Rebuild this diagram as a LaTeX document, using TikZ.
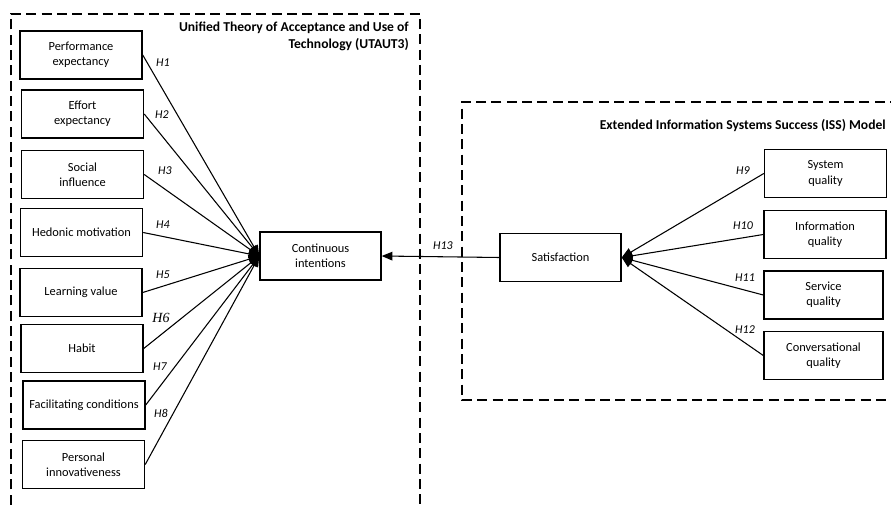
\documentclass[tikz,border=0pt]{standalone}
\usepackage{fontspec}
\setmainfont{Carlito}
\newfontfamily\hsix{Liberation Serif}
\usetikzlibrary{arrows.meta}

\tikzset{
  construct/.style={draw, line width=1.1pt, minimum width=91.5pt, minimum height=36pt,
    align=center, inner sep=1pt, font=\fontsize{9.3}{11.3}\selectfont},
  hyp/.style={font=\fontsize{9}{11}\selectfont\itshape, inner sep=0pt},
  path/.style={line width=0.8pt, -{Triangle[length=8pt, width=6.5pt]}},
  frame/.style={line width=1pt, dash pattern=on 7.5pt off 4pt},
  modeltitle/.style={font=\fontsize{10.2}{12.4}\selectfont\bfseries, align=right, inner sep=0pt}
}

\begin{document}
\begin{tikzpicture}[x=0.75pt, y=-0.75pt]

  \useasboundingbox (0,0) rectangle (891,506);
  \clip (0,0) rectangle (891,506);

  % --- UTAUT3 frame (sinistra) ---
  \draw[frame] (11,520) -- (11,14) -- (420,14) -- (420,520);
  \node[modeltitle, anchor=north east] (utaut) at (409,22)
    {Unified Theory of Acceptance and Use of\\Technology (UTAUT3)};

  % --- ISS frame (destra) ---
  \draw[frame] (900,102) -- (462,102) -- (462,400) -- (900,400);
  \node[modeltitle, anchor=east] (iss) at (886,126)
    {Extended Information Systems Success (ISS) Model};

  % --- costrutti UTAUT3 ---
  \node[construct] (pe) at (81,55) {Performance\\expectancy};
  \node[construct] (ee) at (82.5,114) {Effort\\expectancy};
  \node[construct] (si) at (82.5,174.5) {Social\\influence};
  \node[construct] (hm) at (81.5,232.5) {Hedonic motivation};
  \node[construct] (lv) at (81,292.5) {Learning value};
  \node[construct] (hb) at (82,348.5) {Habit};
  \node[construct] (fc) at (84,405) {Facilitating conditions};
  \node[construct] (pi) at (83.5,464.5) {Personal\\innovativeness};

  % --- variabili centrali ---
  \node[construct, minimum width=90.75pt] (ci) at (320.5,256) {Continuous\\intentions};
  \node[construct, minimum width=90.75pt] (sat) at (560.5,257.5) {Satisfaction};

  % --- costrutti ISS ---
  \node[construct] (sq) at (825.5,173.5) {System\\quality};
  \node[construct] (iq) at (825,234.5) {Information\\quality};
  \node[construct, minimum width=89.25pt] (svq) at (823.5,295) {Service\\quality};
  \node[construct, minimum width=89.25pt] (cq) at (823.5,355.5) {Conversational\\quality};

  % --- ipotesi H1-H8 ---
  \foreach \src in {pe,ee,si,hm,lv,hb,fc,pi}
    \draw[path] (\src.east) -- (ci.west);

  % --- ipotesi H9-H12 ---
  \foreach \src in {sq,iq,svq,cq}
    \draw[path] (\src.west) -- (sat.east);

  % --- H13 ---
  \draw[path] (sat.west) -- (ci.east);

  % --- etichette ---
  \node[hyp] (h1) at (163,63) {H1};
  \node[hyp] (h2) at (162,115) {H2};
  \node[hyp] (h3) at (165,171) {H3};
  \node[hyp] (h4) at (163,225) {H4};
  \node[hyp] (h5) at (163,275) {H5};
  \node[hyp, font=\fontsize{10.5}{12}\selectfont\hsix\itshape] (h6) at (161,318) {H6};
  \node[hyp] (h7) at (160,367) {H7};
  \node[hyp] (h8) at (161,413) {H8};
  \node[hyp] (h9) at (743,171) {H9};
  \node[hyp] (h10) at (743,226) {H10};
  \node[hyp] (h11) at (745,278) {H11};
  \node[hyp] (h12) at (745,330) {H12};
  \node[hyp] (h13) at (443,246) {H13};

\end{tikzpicture}
\end{document}
